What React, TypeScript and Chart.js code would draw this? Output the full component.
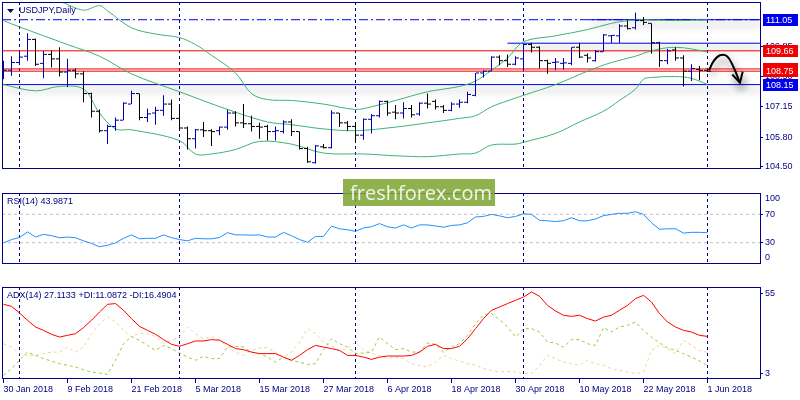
import React, { useEffect, useRef } from 'react';
import { Chart, registerables } from 'chart.js';

Chart.register(...registerables);

const NAVY = '#000080';
const FONT = "'Liberation Sans', Arial, sans-serif";
const X_MIN = -0.1875;
const X_MAX = 94.5625;

// ---- x axis ----
const xTickIdx = [0, 8, 16, 24, 32, 40, 48, 56, 64, 72, 80, 88];
const xTickLabels = ['30 Jan 2018', '9 Feb 2018', '21 Feb 2018', '5 Mar 2018', '15 Mar 2018', '27 Mar 2018', '6 Apr 2018', '18 Apr 2018', '30 Apr 2018', '10 May 2018', '22 May 2018', '1 Jun 2018'];
const separatorIdx = [2, 22, 44, 65, 88];

// ---- OHLC (USDJPY daily) ----
const opens = [108.75, 108.79, 109.14, 109.42, 110.17, 109.10, 109.50, 109.30, 108.71, 108.79,
  108.63, 107.75, 106.96, 106.09, 106.28, 106.56, 107.28, 107.75, 106.68, 106.88,
  107.00, 107.28, 106.64, 106.21, 105.73, 106.13, 106.09, 106.09, 106.25, 106.88,
  106.44, 106.40, 106.28, 106.28, 106.05, 106.05, 106.48, 106.05, 105.29, 104.66,
  105.37, 105.33, 106.88, 106.44, 106.28, 105.89, 106.60, 106.76, 107.40, 106.92,
  106.88, 107.08, 106.84, 107.32, 107.40, 107.16, 107.00, 107.28, 107.36, 107.67,
  108.67, 108.75, 109.38, 109.22, 109.06, 109.30, 109.94, 109.82, 109.22, 109.14,
  109.10, 109.10, 109.82, 109.46, 109.22, 109.62, 110.33, 110.33, 110.77, 110.69,
  111.01, 110.89, 110.02, 109.22, 109.70, 109.34, 108.75, 108.83, 108.79];
const highs = [109.22, 109.42, 109.62, 110.45, 110.21, 109.66, 109.66, 109.82, 109.30, 108.87,
  108.75, 107.79, 107.04, 106.36, 106.68, 107.36, 107.87, 107.75, 107.08, 107.16,
  107.67, 107.48, 107.24, 106.28, 106.17, 106.48, 106.17, 106.28, 107.04, 106.96,
  107.28, 106.76, 106.44, 106.36, 106.28, 106.56, 106.60, 106.05, 105.37, 105.45,
  105.49, 107.00, 106.88, 106.52, 106.44, 106.64, 106.84, 107.44, 107.44, 107.24,
  107.36, 107.24, 107.36, 107.75, 107.48, 107.24, 107.36, 107.48, 107.83, 108.67,
  108.79, 109.42, 109.46, 109.50, 109.42, 109.98, 110.02, 109.86, 109.26, 109.34,
  109.34, 109.82, 110.02, 109.54, 109.70, 110.41, 110.37, 110.85, 111.01, 111.37,
  111.17, 110.89, 110.06, 109.74, 109.82, 109.46, 109.06, 108.98, 108.87];
const lows = [108.39, 108.55, 109.06, 109.22, 108.98, 108.43, 108.91, 108.51, 108.03, 108.43,
  107.36, 106.68, 106.01, 105.49, 106.09, 106.56, 107.28, 106.56, 106.48, 106.36,
  106.76, 106.56, 106.09, 105.25, 105.29, 105.81, 105.41, 105.89, 106.13, 106.28,
  106.21, 106.05, 105.73, 105.65, 105.65, 105.97, 105.85, 105.25, 104.66, 104.62,
  105.29, 105.29, 106.25, 106.09, 105.57, 105.69, 105.97, 106.68, 106.76, 106.60,
  106.64, 106.68, 106.76, 107.08, 107.04, 106.88, 106.96, 107.12, 107.32, 107.63,
  108.47, 108.75, 109.02, 108.94, 109.02, 108.75, 109.58, 108.87, 108.63, 108.79,
  108.83, 109.02, 109.34, 109.14, 109.18, 109.62, 110.02, 110.02, 110.61, 110.61,
  110.81, 109.54, 108.94, 109.06, 109.22, 108.07, 108.31, 108.35, 108.71];
const closes = [108.79, 109.14, 109.38, 110.17, 109.06, 109.50, 109.30, 108.71, 108.79, 108.63,
  107.75, 106.96, 106.09, 106.28, 106.56, 107.32, 107.75, 106.68, 106.84, 107.00,
  107.28, 106.64, 106.21, 105.73, 106.13, 106.09, 106.05, 106.25, 106.88, 106.44,
  106.40, 106.28, 106.25, 106.05, 106.09, 106.48, 106.05, 105.29, 104.70, 105.41,
  105.33, 106.88, 106.44, 106.28, 105.89, 106.60, 106.76, 107.40, 106.88, 106.88,
  107.08, 106.80, 107.32, 107.28, 107.16, 107.00, 107.28, 107.36, 107.71, 108.67,
  108.75, 109.38, 109.22, 109.06, 109.34, 109.94, 109.82, 109.22, 109.10, 109.16,
  109.12, 109.82, 109.38, 109.34, 109.62, 110.37, 110.35, 110.77, 110.65, 111.01,
  110.93, 110.02, 109.22, 109.66, 109.34, 108.75, 108.87, 108.79, 108.75];

// ---- Bollinger bands ----
const bbUpperIdx = [0, 3, 6, 7, 10, 12, 13, 16, 19, 22, 24, 26, 29, 31, 33, 36, 40, 44, 46, 49, 53, 57, 59, 61, 63, 65, 69, 73, 76, 78, 80, 84, 88];
const bbUpperVal = [112.52, 112.24, 111.96, 111.88, 111.48, 111.68, 111.45, 110.69, 110.41, 110.25, 109.94, 109.46, 108.67, 107.75, 107.48, 107.44, 107.28, 107.04, 107.16, 107.44, 107.83, 108.07, 108.31, 108.79, 109.34, 110.06, 110.33, 110.61, 110.89, 111.01, 111.05, 111.01, 111.05];
const bbMidIdx = [0, 2, 8, 12, 16, 22, 28, 33, 36, 40, 44, 49, 53, 57, 59, 61, 64, 65, 69, 73, 76, 79, 81, 84, 88];
const bbMidVal = [111.01, 110.73, 109.94, 109.42, 108.63, 107.83, 107.04, 106.48, 106.36, 106.17, 106.09, 106.25, 106.44, 106.64, 106.76, 107.16, 107.55, 107.67, 108.15, 108.75, 109.14, 109.42, 109.66, 109.82, 109.62];
const bbLowIdx = [0, 4, 7, 10, 12, 14, 16, 22, 24, 26, 29, 32, 36, 40, 45, 49, 53, 57, 59, 61, 64, 65, 69, 72, 75, 77, 79, 80, 81, 84, 86, 88];
const bbLowVal = [108.15, 107.87, 108.07, 107.95, 106.88, 106.17, 106.13, 105.65, 105.05, 105.05, 105.25, 105.61, 105.49, 105.09, 105.05, 104.97, 104.93, 105.05, 105.09, 105.45, 105.49, 105.57, 105.97, 106.48, 106.96, 107.44, 107.95, 108.39, 108.47, 108.51, 108.43, 108.15];

// ---- price axis & levels ----
const priceMin = 104.378;
const priceMax = 111.842;
const priceTicks = [104.5, 105.8, 107.15, 108.5, 109.85];
const levelPrices = [111.05, 109.66, 108.85, 108.75, 108.15];
const levelColors = ['#0000e6', '#f00000', '#f00000', '#f00000', '#0000e6'];
const levelLabelColors = ['#0000f0', '#f00000', '#f00000', '#f00000', '#0000f0'];
const segPrices = [111.05, 110.0];
const segStartIdx = [73.2, 63];
const arrowIdx = [88.19, 88.81, 89.56, 90.44, 91.19, 92.06];
const arrowVal = [108.79, 109.22, 109.46, 109.42, 108.98, 108.23];
const arrowHeadIdx = [91.1, 92.06, 92.4];
const arrowHeadVal = [108.6, 108.23, 108.72];

// ---- RSI(14) ----
const rsiValues = [29.7, 34.4, 37.3, 45.3, 38.0, 41.7, 39.9, 37.0, 38.0, 37.0,
  32.6, 29.0, 24.3, 26.4, 29.7, 36.2, 41.0, 35.5, 36.2, 36.2,
  41.0, 37.0, 34.4, 32.6, 36.2, 35.5, 35.5, 37.3, 44.2, 41.0,
  41.0, 40.6, 41.0, 38.0, 38.0, 44.6, 39.9, 34.4, 30.8, 38.8,
  38.8, 53.3, 49.6, 48.2, 46.0, 50.7, 52.5, 56.9, 52.5, 50.7,
  55.1, 50.7, 55.1, 55.1, 53.6, 51.8, 54.3, 55.1, 58.0, 66.3,
  67.0, 69.9, 67.8, 65.2, 67.0, 70.7, 69.9, 61.6, 60.9, 59.8,
  60.9, 65.2, 60.9, 60.9, 63.4, 68.1, 69.9, 71.4, 71.4, 73.6,
  69.9, 58.0, 48.9, 49.6, 49.6, 43.5, 44.6, 44.6, 44.0];
const rsiLevels = [70, 30];
const rsiTicks = [30, 70];

// ---- ADX(14) ----
const adxValues = [48.2, 46.9, 42.5, 37.7, 33.3, 31.1, 28.5, 26.7, 27.8, 28.9,
  32.9, 37.7, 43.1, 48.2, 48.7, 44.3, 38.8, 33.7, 31.1, 28.5,
  25.0, 21.9, 20.6, 22.3, 24.1, 24.1, 25.0, 24.6, 21.9, 19.1,
  18.4, 16.8, 15.8, 15.8, 15.8, 13.5, 11.4, 14.6, 18.4, 21.2,
  20.1, 19.1, 17.9, 14.6, 14.6, 13.5, 12.0, 13.5, 14.2, 14.2,
  14.2, 14.6, 16.8, 20.6, 21.9, 19.1, 19.1, 20.6, 25.6, 32.2,
  38.8, 44.3, 46.4, 48.7, 50.8, 53.0, 56.3, 53.5, 47.5, 43.8,
  41.0, 40.3, 41.0, 38.8, 37.2, 39.8, 41.0, 44.3, 47.5, 52.0,
  54.1, 49.7, 42.1, 36.6, 33.3, 31.1, 30.0, 27.8, 27.1];
const plusDiValues = [1.5, 5.9, 11.4, 16.8, 14.6, 12.5, 10.9, 9.2, 8.1, 7.0,
  5.2, 3.7, 3.0, 2.1, 11.4, 22.3, 27.1, 24.5, 21.2, 17.9,
  21.2, 19.1, 16.2, 13.5, 11.4, 14.0, 12.5, 12.5, 20.1, 20.6,
  20.1, 16.8, 15.8, 13.5, 10.2, 13.5, 11.4, 10.2, 8.7, 9.2,
  18.4, 25.6, 22.3, 20.1, 15.8, 16.2, 16.8, 26.7, 22.3, 18.4,
  19.1, 16.8, 16.8, 22.8, 21.9, 16.8, 20.1, 22.3, 27.8, 35.5,
  41.4, 42.1, 38.1, 33.3, 26.7, 32.2, 32.2, 30.0, 23.4, 22.8,
  20.1, 25.0, 25.0, 22.3, 21.2, 32.9, 30.0, 33.3, 34.4, 36.6,
  31.1, 26.7, 22.8, 19.7, 17.9, 15.8, 13.5, 10.9, 8.1];
const minusDiValues = [22.3, 20.1, 15.8, 14.6, 14.6, 15.8, 16.8, 16.8, 20.1, 16.8,
  20.1, 28.9, 35.5, 39.8, 36.6, 31.1, 26.7, 29.3, 28.9, 27.1,
  22.8, 24.5, 26.7, 33.3, 28.9, 25.6, 27.1, 24.5, 20.1, 16.8,
  14.6, 17.9, 19.7, 19.7, 16.8, 13.5, 16.8, 23.4, 32.2, 28.9,
  23.4, 20.6, 17.9, 19.1, 23.4, 18.4, 15.8, 14.6, 12.5, 13.5,
  12.5, 9.2, 8.1, 7.0, 10.2, 14.6, 12.5, 10.9, 9.2, 8.1,
  5.9, 4.8, 3.7, 4.0, 3.7, 2.6, 2.6, 8.1, 14.6, 12.5,
  10.2, 9.2, 8.1, 11.4, 9.2, 8.1, 5.9, 4.8, 3.7, 2.6,
  3.7, 17.9, 21.2, 19.1, 15.8, 24.5, 21.2, 17.9, 16.5];
const adxMin = -0.9;
const adxMax = 59.6;
const adxTicks = [3, 55];

// ---------------------------------------------------------------
const pts = (xs: number[], ys: number[]) => xs.map((x, k) => ({ x, y: ys[k] }));
const series = (ys: number[]) => ys.map((y, i) => ({ x: i, y }));
const barColors = opens.map((o, i) => (closes[i] > o ? '#0000a8' : '#000000'));

const shadowPlugin = {
  id: 'shadowLines',
  beforeDatasetDraw(chart: any, args: any) {
    const ds = chart.data.datasets[args.index];
    if (ds.shadow) {
      const ctx = chart.ctx;
      ctx.save();
      ctx.shadowColor = 'rgba(0,0,0,0.6)';
      ctx.shadowBlur = 8;
      ctx.shadowOffsetX = 2;
      ctx.shadowOffsetY = 5;
    }
  },
  afterDatasetDraw(chart: any, args: any) {
    const ds = chart.data.datasets[args.index];
    if (ds.shadow) chart.ctx.restore();
  },
};

const panelPlugin = {
  id: 'panel',
  beforeDatasetsDraw(chart: any) {
    const { ctx, chartArea: a, scales } = chart;
    ctx.save();
    ctx.strokeStyle = NAVY;
    ctx.lineWidth = 1;
    ctx.setLineDash([3, 3]);
    separatorIdx.forEach((i) => {
      const x = scales.x.getPixelForValue(i);
      ctx.beginPath();
      ctx.moveTo(x, a.top);
      ctx.lineTo(x, a.bottom);
      ctx.stroke();
    });
    ctx.restore();
  },
  afterDraw(chart: any, _args: any, opts: any) {
    const { ctx, chartArea: a, scales } = chart;
    ctx.save();
    ctx.strokeStyle = NAVY;
    ctx.lineWidth = 1;
    ctx.strokeRect(a.left + 0.5, a.top + 0.5, a.right - a.left, a.bottom - a.top - 1);
    ctx.font = `9px ${FONT}`;
    ctx.textBaseline = 'middle';
    ctx.fillStyle = NAVY;
    let tx = a.left + 5;
    if (opts.triangle) {
      ctx.beginPath();
      ctx.moveTo(a.left + 5, a.top + 7);
      ctx.lineTo(a.left + 12, a.top + 7);
      ctx.lineTo(a.left + 8.5, a.top + 11);
      ctx.closePath();
      ctx.fill();
      tx = a.left + 17;
    }
    if (opts.title) ctx.fillText(opts.title, tx, a.top + 9);
    if (opts.edges) {
      opts.edges.forEach((e: number[]) => {
        const y = scales.y.getPixelForValue(e[0]) + e[1];
        ctx.fillStyle = NAVY;
        ctx.fillText(String(e[0]), a.right + 5, y);
      });
    }
    if (opts.levels) {
      levelPrices.forEach((p, k) => {
        const y = Math.round(scales.y.getPixelForValue(p));
        ctx.fillStyle = levelLabelColors[k];
        ctx.fillRect(a.right + 3, y - 6, 35, 12);
        ctx.fillStyle = '#ffffff';
        ctx.fillText(p.toFixed(2), a.right + 6, y + 0.5);
      });
    }
    ctx.restore();
  },
};

function xScale(display: boolean) {
  return {
    type: 'linear',
    min: X_MIN,
    max: X_MAX,
    offset: false,
    display,
    grid: { display, drawOnChartArea: false, drawTicks: true, tickLength: 4, tickColor: NAVY, offset: false },
    border: { display: false },
    afterBuildTicks: (s: any) => {
      s.ticks = xTickIdx.map((v) => ({ value: v }));
    },
    ticks: {
      autoSkip: false,
      maxRotation: 0,
      minRotation: 0,
      align: 'start',
      padding: 1,
      color: NAVY,
      font: { family: FONT, size: 9 },
      callback: (v: any) => {
        const k = xTickIdx.indexOf(Number(v));
        return k >= 0 ? xTickLabels[k] : '';
      },
    },
    afterFit: (s: any) => {
      s.height = 21;
      s.paddingLeft = 0;
      s.paddingRight = 0;
      s.paddingTop = 0;
      s.paddingBottom = 0;
    },
  };
}

function yScale(min: number, max: number, ticks: number[], fmt: (v: number) => string) {
  return {
    type: 'linear',
    position: 'right',
    min,
    max,
    beginAtZero: false,
    grid: { drawOnChartArea: false, drawTicks: true, tickLength: 3, tickColor: NAVY },
    border: { display: false },
    afterBuildTicks: (s: any) => {
      s.ticks = ticks.map((v) => ({ value: v }));
    },
    ticks: { autoSkip: false, color: NAVY, padding: 2, font: { family: FONT, size: 9 }, callback: (v: any) => fmt(Number(v)) },
    afterFit: (s: any) => {
      s.width = 40;
      s.paddingLeft = 0;
      s.paddingRight = 0;
      s.paddingTop = 0;
      s.paddingBottom = 0;
    },
  };
}

function baseOptions(padding: any, panel: any, scales: any) {
  return {
    responsive: false,
    animation: false,
    devicePixelRatio: 1,
    events: [],
    layout: { padding, autoPadding: false },
    plugins: { legend: { display: false }, tooltip: { enabled: false }, panel },
    scales,
  };
}

const flat = (p: number, from: number, color: string, width: number, dash: number[], shadow: boolean, order: number) => ({
  type: 'line',
  data: [{ x: from, y: p }, { x: X_MAX, y: p }],
  borderColor: color,
  borderWidth: width,
  borderDash: dash,
  pointRadius: 0,
  shadow,
  order,
});

function mainConfig(): any {
  const idx = opens.map((_, i) => i);
  const datasets: any[] = [
    flat(levelPrices[0], X_MIN, levelColors[0], 1, [9, 3, 2, 3], false, 6),
    flat(levelPrices[1], X_MIN, levelColors[1], 1, [], false, 6),
    flat(levelPrices[2], X_MIN, levelColors[2], 1, [], false, 6),
    flat(levelPrices[3], X_MIN, levelColors[3], 1, [], false, 6),
    flat(levelPrices[4], X_MIN, levelColors[4], 1, [], true, 6),
    flat(segPrices[0], segStartIdx[0], '#0000e6', 1, [], true, 6),
    flat(segPrices[1], segStartIdx[1], '#0000e6', 1, [], true, 6),
    ...[pts(bbUpperIdx, bbUpperVal), pts(bbMidIdx, bbMidVal), pts(bbLowIdx, bbLowVal)].map((d) => ({
      type: 'line',
      data: d,
      borderColor: '#3cb371',
      borderWidth: 1,
      tension: 0.35,
      pointRadius: 0,
      order: 5,
    })),
    {
      type: 'bar',
      data: idx.map((i) => ({ x: i, y: [lows[i], highs[i]] })),
      backgroundColor: barColors,
      borderWidth: 0,
      barThickness: 1,
      inflateAmount: 0,
      grouped: false,
      order: 2,
    },
    {
      type: 'line',
      data: idx.map((i) => ({ x: i - 0.25, y: opens[i] })),
      showLine: false,
      pointStyle: 'line',
      pointRadius: 1.5,
      pointBorderWidth: 1,
      pointBorderColor: barColors,
      pointBackgroundColor: barColors,
      order: 1,
    },
    {
      type: 'line',
      data: idx.map((i) => ({ x: i + 0.25, y: closes[i] })),
      showLine: false,
      pointStyle: 'line',
      pointRadius: 1.5,
      pointBorderWidth: 1,
      pointBorderColor: barColors,
      pointBackgroundColor: barColors,
      order: 1,
    },
    {
      type: 'line',
      data: pts(arrowIdx, arrowVal),
      borderColor: '#000000',
      borderWidth: 2,
      tension: 0.4,
      pointRadius: 0,
      shadow: true,
      order: 0,
    },
    {
      type: 'line',
      data: pts(arrowHeadIdx, arrowHeadVal),
      borderColor: '#000000',
      borderWidth: 2,
      tension: 0,
      pointRadius: 0,
      shadow: true,
      order: 0,
    },
  ];
  return {
    type: 'line',
    data: { datasets },
    options: baseOptions(
      { left: 2, top: 2, right: 0, bottom: 1 },
      { title: 'USDJPY,Daily', triangle: true, levels: true },
      { x: xScale(false), y: yScale(priceMin, priceMax, priceTicks, (v) => v.toFixed(2)) }
    ),
    plugins: [shadowPlugin, panelPlugin],
  };
}

function rsiConfig(): any {
  const datasets: any[] = [
    ...rsiLevels.map((l) => flat(l, X_MIN, '#c0c0c0', 1, [3, 3], false, 5)),
    { type: 'line', data: series(rsiValues), borderColor: '#1e90ff', borderWidth: 1, pointRadius: 0, tension: 0, order: 1 },
  ];
  return {
    type: 'line',
    data: { datasets },
    options: baseOptions(
      { left: 2, top: 2, right: 0, bottom: 1 },
      { title: 'RSI(14) 43.9871', edges: [[100, 6], [0, -6]] },
      { x: xScale(false), y: yScale(0, 100, rsiTicks, (v) => String(v)) }
    ),
    plugins: [shadowPlugin, panelPlugin],
  };
}

function adxConfig(): any {
  const datasets: any[] = [
    { type: 'line', data: series(minusDiValues), borderColor: '#f5cfa0', borderWidth: 1, borderDash: [3, 3], pointRadius: 0, order: 3 },
    { type: 'line', data: series(plusDiValues), borderColor: '#9acd32', borderWidth: 1, borderDash: [3, 3], pointRadius: 0, order: 2 },
    { type: 'line', data: series(adxValues), borderColor: '#ff0000', borderWidth: 1, pointRadius: 0, order: 1 },
  ];
  return {
    type: 'line',
    data: { datasets },
    options: baseOptions(
      { left: 2, top: 1, right: 0, bottom: 0 },
      { title: 'ADX(14) 27.1133 +DI:11.0872 -DI:16.4904' },
      { x: xScale(true), y: yScale(adxMin, adxMax, adxTicks, (v) => String(v)) }
    ),
    plugins: [shadowPlugin, panelPlugin],
  };
}

export default function App() {
  const mainRef = useRef<HTMLCanvasElement>(null);
  const rsiRef = useRef<HTMLCanvasElement>(null);
  const adxRef = useRef<HTMLCanvasElement>(null);

  useEffect(() => {
    document.body.style.margin = '0';
    const charts = [
      new Chart(mainRef.current as HTMLCanvasElement, mainConfig()),
      new Chart(rsiRef.current as HTMLCanvasElement, rsiConfig()),
      new Chart(adxRef.current as HTMLCanvasElement, adxConfig()),
    ];
    return () => charts.forEach((c) => c.destroy());
  }, []);

  return (
    <div style={{ position: 'absolute', left: 0, top: 0, width: 800, height: 400, background: '#ffffff', overflow: 'hidden' }}>
      <canvas ref={mainRef} width={800} height={191} style={{ position: 'absolute', left: 0, top: 0 }} />
      <canvas ref={rsiRef} width={800} height={95} style={{ position: 'absolute', left: 0, top: 191 }} />
      <canvas ref={adxRef} width={800} height={114} style={{ position: 'absolute', left: 0, top: 286 }} />
      <div
        style={{
          position: 'absolute',
          left: 343,
          top: 179,
          width: 152,
          height: 27,
          background: 'rgba(128,167,55,0.88)',
          color: 'rgba(255,255,255,0.88)',
          fontFamily: "'Open Sans', sans-serif",
          fontSize: 20,
          lineHeight: '27px',
          paddingLeft: 7,
          boxSizing: 'border-box',
          whiteSpace: 'nowrap',
        }}
      >
        freshforex.com
      </div>
    </div>
  );
}
